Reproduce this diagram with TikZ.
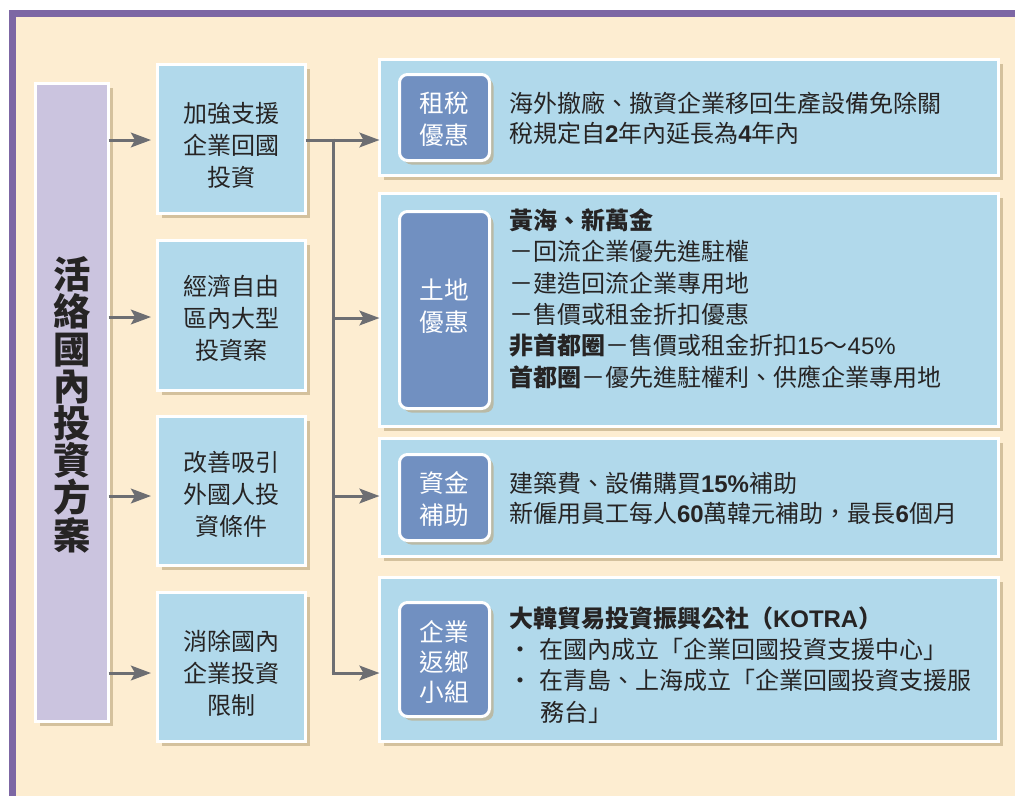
\documentclass[tikz,border=0pt]{standalone}
\usepackage{fontspec}
\setmainfont{Noto Sans CJK TC}
\newfontfamily\lat{Liberation Sans}
\usetikzlibrary{arrows.meta,shadows}
\definecolor{frameP}{HTML}{7D67A4}
\definecolor{cream}{HTML}{FDEDD1}
\definecolor{lav}{HTML}{CBC4DF}
\definecolor{lblue}{HTML}{B1D9EB}
\definecolor{tagblue}{HTML}{7190C1}
\definecolor{arrgray}{HTML}{6D6E72}
\definecolor{txt}{HTML}{262424}
\definecolor{shadowc}{HTML}{BFAA82}
\begin{document}
\begin{tikzpicture}[x=0.75pt,y=-0.75pt,
  every node/.style={inner sep=0pt, outer sep=0pt},
  shd/.style={drop shadow={shadow xshift=3pt, shadow yshift=-3pt, fill=shadowc, opacity=0.65}},
  wbox/.style={draw=white, line width=2.25pt, shd},
  titlebox/.style={wbox, fill=lav},
  midbox/.style={wbox, fill=lblue, minimum width=111pt},
  rbox/.style={wbox, fill=lblue, minimum width=464.25pt},
  tagbox/.style={wbox, fill=tagblue, rounded corners=6pt, minimum width=67.5pt},
  midtext/.style={align=center, text=txt, font=\fontsize{18pt}{24pt}\selectfont},
  tagtext/.style={align=center, text=white, font=\fontsize{18.5pt}{24pt}\selectfont},
  rtext/.style={align=left, text=txt, anchor=base west},
  titletext/.style={align=center, text=txt, font=\fontsize{28pt}{27.9pt}\selectfont\bfseries},
  conn/.style={draw=arrgray, line width=2.25pt},
  arr/.style={conn, -{Stealth[length=15pt, width=11pt, inset=3pt]}}
]
\useasboundingbox (0,0) rectangle (1015,796);
% frame
\fill[white] (0,0) rectangle (1015,796);
\fill[frameP] (9,10) rectangle (1015,796);
\fill[cream] (16,17) rectangle (1015,796);

% title box
\node[titlebox, minimum width=54.75pt, minimum height=478.5pt] (L) at (72,402.5) {};
\node[titletext, anchor=base] (Lt) at (72,549) {活\\絡\\國\\內\\投\\資\\方\\案};

% middle boxes
\node[midbox, minimum height=111.75pt] (m1) at (231.5,139) {};
\node[midbox, minimum height=112.5pt] (m2) at (231.5,315.5) {};
\node[midbox, minimum height=111.75pt] (m3) at (231.5,491) {};
\node[midbox, minimum height=111.75pt] (m4) at (231.5,667) {};
\node[midtext, anchor=base] (m1t) at (231.5,186) {加強支援\\企業回國\\投資};
\node[midtext, anchor=base] (m2t) at (231.5,359) {經濟自由\\區內大型\\投資案};
\node[midtext, anchor=base] (m3t) at (231.5,535) {改善吸引\\外國人投\\資條件};
\node[midtext, anchor=base] (m4t) at (231.5,714) {消除國內\\企業投資\\限制};

% right boxes
\node[rbox, minimum height=87pt] (r1) at (689,117.5) {};
\node[rbox, minimum height=174.75pt] (r2) at (689,310) {};
\node[rbox, minimum height=88.5pt] (r3) at (689,497.5) {};
\node[rbox, minimum height=123pt] (r4) at (689,659.5) {};

% tag boxes
\node[tagbox, minimum height=64.5pt] (g1) at (444.5,117.5) {};
\node[tagbox, minimum height=147.75pt] (g2) at (444.5,310) {};
\node[tagbox, minimum height=64.5pt] (g3) at (444.5,497.5) {};
\node[tagbox, minimum height=85.5pt] (g4) at (444.5,659.5) {};
\node[tagtext, anchor=base] (g1t) at (444.5,144) {租稅\\優惠};
\node[tagtext, anchor=base] (g2t) at (444.5,331) {土地\\優惠};
\node[tagtext, anchor=base] (g3t) at (444.5,524) {資金\\補助};
\node[tagtext, anchor=base, font=\fontsize{18.5pt}{22.5pt}\selectfont] (g4t) at (444.5,701) {企業\\返鄉\\小組};

% right texts
\node[rtext, font=\fontsize{18pt}{22.5pt}\selectfont] (r1t) at (509,142)
  {海外撤廠、撤資企業移回生產設備免除關\\稅規定自{\lat\bfseries 2}年內延長為{\lat\bfseries 4}年內};
\node[rtext, font=\fontsize{18pt}{23.5pt}\selectfont] (r2t) at (509,386)
  {{\bfseries 黃海、新萬金}\\－回流企業優先進駐權\\－建造回流企業專用地\\－售價或租金折扣優惠\\{\bfseries 非首都圈}－售價或租金折扣{\lat 15}～{\lat 45\%}\\{\bfseries 首都圈}－優先進駐權利、供應企業專用地};
\node[rtext, font=\fontsize{18pt}{22.5pt}\selectfont] (r3t) at (509,522)
  {建築費、設備購買{\lat\bfseries 15\%}補助\\新僱用員工每人{\lat\bfseries 60}萬韓元補助，最長{\lat\bfseries 6}個月};
\node[rtext, font=\fontsize{18pt}{23.5pt}\selectfont] (r4t) at (509,721)
  {{\bfseries 大韓貿易投資振興公社（{\lat KOTRA}）}\\\makebox[23.25pt][l]{\hspace{8.25pt}\makebox[0pt][c]{·}}在國內成立「企業回國投資支援中心」\\\makebox[23.25pt][l]{\hspace{8.25pt}\makebox[0pt][c]{·}}在青島、上海成立「企業回國投資支援服\\\hspace*{23.25pt}務台」};

% connectors
\coordinate (a1) at (151,140);
\coordinate (a2) at (151,317);
\coordinate (a3) at (151,496);
\coordinate (a4) at (151,673);
\draw[arr] (L.east |- a1) -- (a1);
\draw[arr] (L.east |- a2) -- (a2);
\draw[arr] (L.east |- a3) -- (a3);
\draw[arr] (L.east |- a4) -- (a4);

\coordinate (j1) at (333,140);
\coordinate (j2) at (333,318);
\coordinate (j3) at (333,496);
\coordinate (j4) at (333,673);
\draw[conn] (m1.east |- j1) -- (j1);
\draw[conn] ([yshift=1.1pt]j1) -- (j4);
\draw[arr] ([xshift=-1.1pt]j1) -- (r1.west |- j1);
\draw[arr] (j2) -- (r2.west |- j2);
\draw[arr] (j3) -- (r3.west |- j3);
\draw[arr] ([xshift=-1.1pt]j4) -- (r4.west |- j4);
\end{tikzpicture}
\end{document}
